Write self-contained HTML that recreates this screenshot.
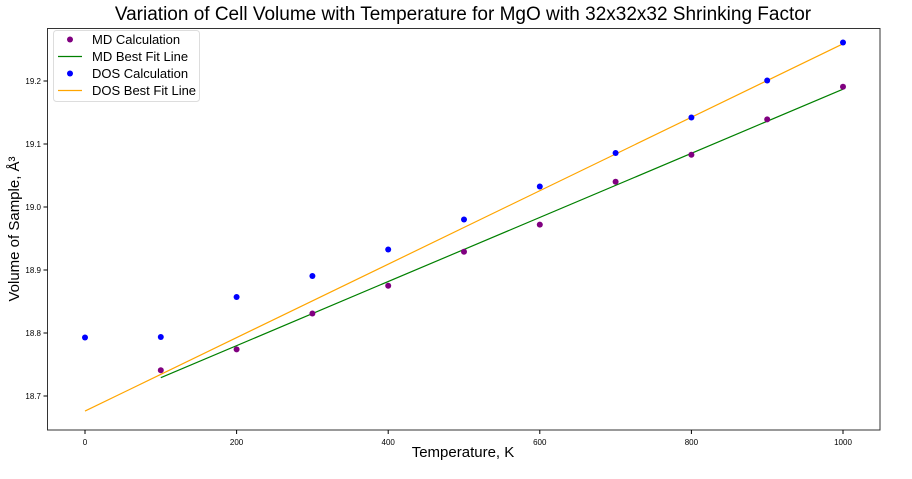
<!DOCTYPE html>
<html><head><style>body{margin:0;background:#fff}</style></head><body>
<svg width="912" height="474" xmlns="http://www.w3.org/2000/svg" font-family="Liberation Sans, DejaVu Sans, sans-serif">
<rect width="912" height="474" fill="#fff"/>
<text x="463" y="20" font-size="19" text-anchor="middle" fill="#000">Variation of Cell Volume with Temperature for MgO with 32x32x32 Shrinking Factor</text>
<rect x="47.5" y="28.5" width="832.5" height="401.5" fill="none" stroke="#333" stroke-width="1"/>
<g stroke="#000" stroke-width="1">
<line x1="85" y1="430" x2="85" y2="434"/><line x1="236.6" y1="430" x2="236.6" y2="434"/><line x1="388.2" y1="430" x2="388.2" y2="434"/><line x1="539.8" y1="430" x2="539.8" y2="434"/><line x1="691.4" y1="430" x2="691.4" y2="434"/><line x1="843" y1="430" x2="843" y2="434"/>
<line x1="43.5" y1="396" x2="47.5" y2="396"/><line x1="43.5" y1="333" x2="47.5" y2="333"/><line x1="43.5" y1="270" x2="47.5" y2="270"/><line x1="43.5" y1="207" x2="47.5" y2="207"/><line x1="43.5" y1="144" x2="47.5" y2="144"/><line x1="43.5" y1="81" x2="47.5" y2="81"/>
</g>
<g font-size="8" fill="#000" text-anchor="middle">
<text x="85" y="445">0</text><text x="236.6" y="445">200</text><text x="388.2" y="445">400</text><text x="539.8" y="445">600</text><text x="691.4" y="445">800</text><text x="843" y="445">1000</text>
</g>
<g font-size="8" fill="#000" text-anchor="end">
<text x="41" y="399">18.7</text><text x="41" y="336">18.8</text><text x="41" y="273">18.9</text><text x="41" y="210">19.0</text><text x="41" y="147">19.1</text><text x="41" y="84">19.2</text>
</g>
<text x="463" y="457" font-size="15" text-anchor="middle">Temperature, K</text>
<text transform="translate(19,229) rotate(-90)" font-size="15" text-anchor="middle">Volume of Sample, Å³</text>
<line x1="160.8" y1="377.7" x2="843" y2="89.2" stroke="green" stroke-width="1.2"/>
<line x1="85" y1="411.1" x2="843" y2="43.8" stroke="orange" stroke-width="1.2"/>
<g fill="purple">
<circle cx="160.8" cy="370.2" r="3"/><circle cx="236.6" cy="349.4" r="3"/><circle cx="312.4" cy="313.5" r="3"/><circle cx="388.2" cy="285.8" r="3"/><circle cx="464" cy="251.7" r="3"/><circle cx="539.8" cy="224.6" r="3"/><circle cx="615.6" cy="181.8" r="3"/><circle cx="691.4" cy="154.7" r="3"/><circle cx="767.2" cy="119.4" r="3"/><circle cx="843" cy="86.7" r="3"/>
</g>
<g fill="blue">
<circle cx="85" cy="337.5" r="3"/><circle cx="160.8" cy="337" r="3"/><circle cx="236.6" cy="297" r="3"/><circle cx="312.4" cy="276" r="3"/><circle cx="388.2" cy="249.5" r="3"/><circle cx="464" cy="219.5" r="3"/><circle cx="539.8" cy="186.5" r="3"/><circle cx="615.6" cy="153" r="3"/><circle cx="691.4" cy="117.5" r="3"/><circle cx="767.2" cy="80.5" r="3"/><circle cx="843" cy="42.5" r="3"/>
</g>
<rect x="53.5" y="30.5" width="146" height="71" rx="3" fill="#fff" fill-opacity="0.8" stroke="#ddd"/>
<circle cx="70" cy="39.5" r="3" fill="purple"/>
<line x1="58" y1="56.5" x2="82" y2="56.5" stroke="green" stroke-width="1.2"/>
<circle cx="70" cy="73.5" r="3" fill="blue"/>
<line x1="58" y1="90.5" x2="82" y2="90.5" stroke="orange" stroke-width="1.2"/>
<g font-size="13" fill="#000">
<text x="92" y="44">MD Calculation</text><text x="92" y="61">MD Best Fit Line</text><text x="92" y="78">DOS Calculation</text><text x="92" y="95">DOS Best Fit Line</text>
</g>
</svg>
</body></html>
